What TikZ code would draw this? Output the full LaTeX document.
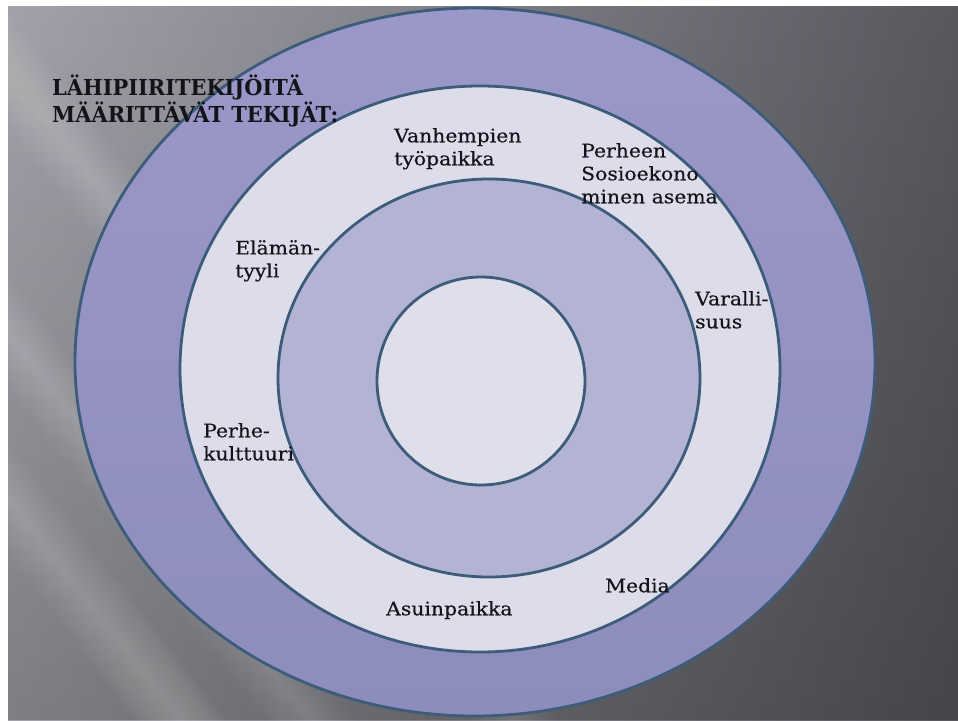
\documentclass[tikz,border=0pt]{standalone}
\usepackage{fontspec}
\usetikzlibrary{fadings}
\setmainfont{DejaVu Serif}
\newfontfamily\ringfont[FakeStretch=1.1, FakeBold=0.4]{DejaVu Serif}
\newfontfamily\headfont[FakeStretch=0.95]{DejaVu Serif}

\definecolor{bgleft}{HTML}{A2A2AA}
\definecolor{bgmid}{HTML}{6E6E76}
\definecolor{bgright}{HTML}{58585F}
\definecolor{ringdarktop}{HTML}{9A98C8}
\definecolor{ringdarkbot}{HTML}{8D8DBD}
\definecolor{ringlight}{HTML}{DCDCEA}
\definecolor{ringmid}{HTML}{B3B3D3}
\definecolor{corefill}{HTML}{DFDFEB}
\definecolor{rimblue}{HTML}{3D5C7A}
\definecolor{inktext}{HTML}{141418}

% darkening towards the lower edge of the slide
\tikzfading[name=downdark, top color=transparent!100, bottom color=transparent!78]

\begin{document}
\begin{tikzpicture}[x=1pt,y=-1pt,
  ring/.style={draw=rimblue, line width=2.8pt},
  ringtext/.style={anchor=north west, inner sep=0pt, align=left, text=inktext,
    font=\ringfont\fontsize{18.5}{23}\selectfont},
  headtext/.style={anchor=north west, inner sep=0pt, align=left, text=inktext,
    font=\headfont\bfseries\fontsize{22}{25}\selectfont}]
\useasboundingbox (0,0) rectangle (958,720);

% paper and slide background
\fill[white] (0,0) rectangle (958,720);
\shade[left color=bgleft, middle color=bgmid, right color=bgright] (8,6) rectangle (958,720);
\fill[black, path fading=downdark] (8,6) rectangle (958,720);

% soft diagonal light streaks on the left
\begin{scope}
  \clip (8,6) rectangle (958,720);
  \foreach \cx/\cy/\op in {95/610/0.014, 45/380/0.010, 70/150/0.010}{
    \begin{scope}[shift={(\cx,\cy)}, rotate=-52]
      \foreach \w in {2,4,...,36}
        \fill[white, opacity=\op] (-900,-\w) rectangle (900,\w);
    \end{scope}
  }
\end{scope}

% concentric rings
\shade[top color=ringdarktop, bottom color=ringdarkbot] (475,362) ellipse [x radius=400, y radius=354];
\draw[ring] (475,362) ellipse [x radius=400, y radius=354];
\draw[ring, fill=ringlight] (480,369) ellipse [x radius=300, y radius=283];
\draw[ring, fill=ringmid] (489,378) ellipse [x radius=211, y radius=199];
\draw[ring, fill=corefill] (481,381) ellipse [x radius=104, y radius=104];

% heading
\node[headtext] (heading) at (52,75) {LÄHIPIIRITEKIJÖITÄ\\MÄÄRITTÄVÄT TEKIJÄT:};

% factor labels
\node[ringtext] (tyopaikka) at (394,128) {Vanhempien\\työpaikka};
\node[ringtext] (asema) at (581,143) {Perheen\\Sosioekono\\minen asema};
\node[ringtext] (elamantyyli) at (235,240) {Elämän-\\tyyli};
\node[ringtext] (varallisuus) at (695,291) {Varalli-\\suus};
\node[ringtext] (perhekulttuuri) at (203,423) {Perhe-\\kulttuuri};
\node[ringtext] (media) at (605,578) {Media};
\node[ringtext] (asuinpaikka) at (386,601) {Asuinpaikka};
\end{tikzpicture}
\end{document}
